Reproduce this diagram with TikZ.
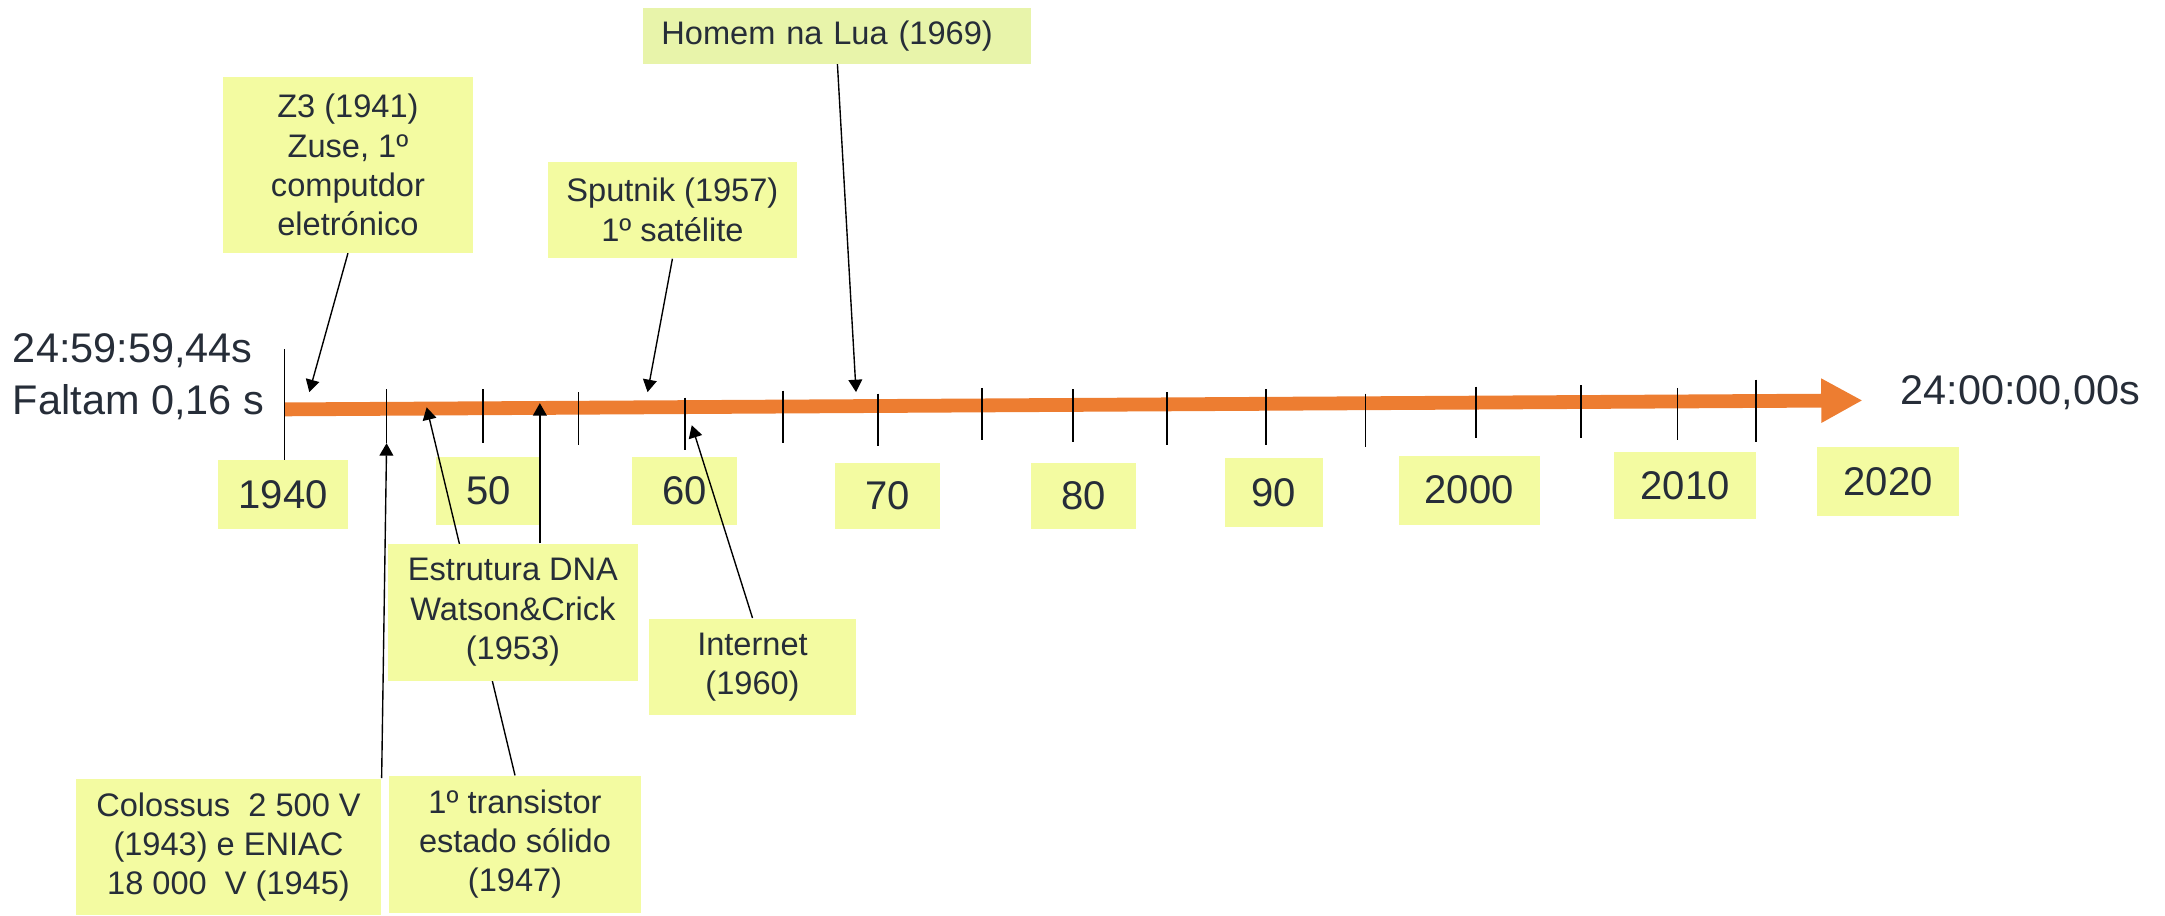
\documentclass[tikz,border=0pt]{standalone}
\usepackage{fontspec}
\setmainfont{Liberation Sans}
\usetikzlibrary{positioning,arrows.meta}
\definecolor{boxyellow}{HTML}{F3FBA1}
\definecolor{moonyellow}{HTML}{E8F4AA}
\definecolor{axisorange}{HTML}{ED7D31}
\definecolor{textdark}{HTML}{262D38}

\begin{document}
\begin{tikzpicture}[
    x=0.5pt, y=-0.5pt,
    event/.style={rectangle, fill=boxyellow, text=textdark, font=\fontsize{11.8}{14.2}\selectfont, align=center, inner sep=0pt},
    year/.style={rectangle, fill=boxyellow, text=textdark, font=\fontsize{14.5}{17}\selectfont, inner sep=0pt},
    clock/.style={text=textdark, font=\fontsize{15}{18.75}\selectfont, inner sep=0pt, align=left},
    timeaxis/.style={draw=axisorange, line width=5pt, -{Triangle[length=15pt,width=15pt]}},
    tickline/.style={draw=black, line width=0.6pt},
    pointer/.style={draw=black, line width=0.5pt, -{Triangle[length=4.5pt,width=5pt]}}
]
\useasboundingbox (0,0) rectangle (1568,663);

% Eixo do tempo
\coordinate (axisL) at (206,296.5);
\coordinate (axisR) at (1349,290);
\draw[timeaxis] (axisL) -- (axisR);

% Marcas
\foreach \tx/\ttop/\tbot in {206/253/333, 280/282/321, 350/282/321, 419/284/322,
    496/288/326, 567/283/321, 636/285/323, 711/281/319, 777/282/320, 845/284/322,
    917/282/322, 989/285/324, 1069/280/317, 1145/279/317, 1215/281/319, 1272/275/320}
    \draw[tickline] (\tx,\ttop) -- (\tx,\tbot);

% Anos
\node[year, minimum width=47pt, minimum height=25pt] (y1940) at (205,358) {1940};
\node[year, minimum width=38pt, minimum height=24.5pt] (y1950) at (354,355.5) {50};
\node[year, minimum width=38pt, minimum height=24.5pt] (y1960) at (496,355.5) {60};
\node[year, minimum width=38pt, minimum height=24pt] (y1970) at (643,359) {70};
\node[year, minimum width=38pt, minimum height=24pt] (y1980) at (785,359) {80};
\node[year, minimum width=35.5pt, minimum height=25pt] (y1990) at (922.5,357) {90};
\node[year, minimum width=51pt, minimum height=25pt] (y2000) at (1064,355) {2000};
\node[year, minimum width=51.5pt, minimum height=24.5pt] (y2010) at (1220.5,351.5) {2010};
\node[year, minimum width=51.5pt, minimum height=25pt] (y2020) at (1367.5,349) {2020};

% Relogio
\node[clock, anchor=north west] (clockstart) at (9,241.5) {24:59:59,44s\\Faltam 0,16 s};
\node[clock, anchor=base west] (clockend) at (1376,293) {24:00:00,00s};

% Acontecimentos
\node[event, minimum width=90.5pt, minimum height=63.5pt] (z3) at (252,119.5) {Z3 (1941)\\Zuse, 1º\\computdor\\eletrónico};
\node[event, fill=moonyellow, minimum height=20pt, text width=127.5pt, inner xsep=6.5pt, align=left] (moon) at (606.5,26) {Homem na Lua (1969)};
\node[event, minimum width=90pt, minimum height=35pt] (sputnik) at (487,152) {Sputnik (1957)\\1º satélite};
\node[event, minimum width=75pt, minimum height=35pt] (internet) at (545,483) {Internet\\(1960)};
\node[event, minimum width=110.5pt, minimum height=49.5pt] (colossus) at (165.5,613.5) {Colossus\ \ 2 500 V\\(1943) e ENIAC\\18 000\ \ V (1945)};
\node[event, minimum width=91pt, minimum height=49.5pt] (transistor) at (373,611.5) {1º transistor\\estado sólido\\(1947)};

% Pontos no eixo
\coordinate (z3tip) at (224,284);
\coordinate (sputniktip) at (469,284);
\coordinate (moontip) at (620,284);
\coordinate (colossustip) at (280,321);
\coordinate (transtip) at (309,295);
\coordinate (dnatip) at (391,292);
\coordinate (internettip) at (501,308);

% Setas
\draw[pointer] (z3.south) -- (z3tip);
\draw[pointer] (sputnik.south) -- (sputniktip);
\draw[pointer] (moon.south) -- (moontip);
\draw[pointer] (colossus.north east) -- (colossustip);
\draw[pointer] (internet.north) -- (internettip);
\draw[pointer] (transistor.north) -- (transtip);

% DNA por cima da seta do transistor
\node[event, minimum width=90.5pt, minimum height=49.5pt] (dna) at (371.5,443.5) {Estrutura DNA\\Watson\&Crick\\(1953)};
\draw[pointer] (dna.north -| dnatip) -- (dnatip);

\end{tikzpicture}
\end{document}
